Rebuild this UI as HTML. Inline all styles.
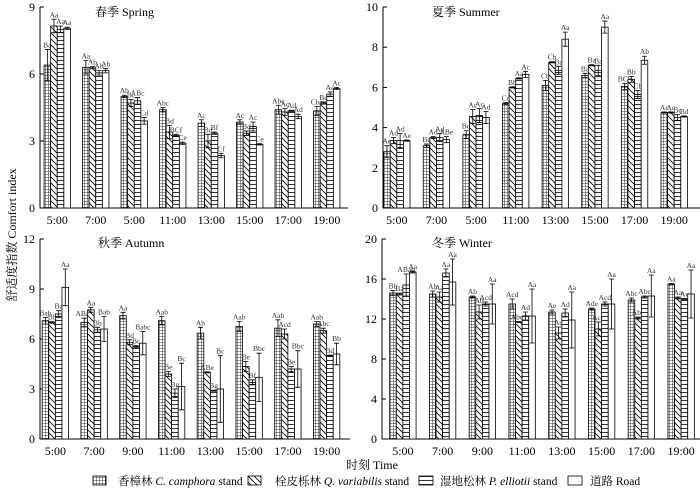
<!DOCTYPE html>
<html><head><meta charset="utf-8"><style>
body{margin:0;background:#fff}
svg, svg text, svg tspan{font-family:"Liberation Serif","Times New Roman","DejaVu Serif","Noto Serif CJK SC",serif !important}
</style></head><body>
<svg id="c" width="700" height="488" viewBox="0 0 700 488">
<defs>
<pattern id="pGrid" width="3" height="3" patternUnits="userSpaceOnUse"><rect width="3" height="3" fill="#fff"/><path d="M0 0H3M0 0V3" stroke="#000" stroke-width="0.8"/></pattern>
<pattern id="pDiag" width="6" height="6" patternUnits="userSpaceOnUse"><rect width="6" height="6" fill="#fff"/><path d="M-1 -1L7 7M-1 5L1 7M5 -1L7 1" stroke="#000" stroke-width="0.8"/></pattern>
<pattern id="pHor" width="4" height="4" patternUnits="userSpaceOnUse"><rect width="4" height="4" fill="#fff"/><path d="M0 0.5H4" stroke="#000" stroke-width="0.8"/></pattern>
</defs>
<g id="plots"></g>
<text x="16" y="235" transform="rotate(-90 16 235)" text-anchor="middle" font-size="12">舒适度指数 Comfort index</text>
<text x="372" y="469" text-anchor="middle" font-size="12">时刻  Time</text>
<g id="legend" font-size="11.5">
<rect x="93" y="476" width="13" height="9" fill="url(#pGrid)" stroke="#000" stroke-width="0.8"/>
<text x="118" y="485">香樟林 <tspan font-style="italic">C. camphora</tspan> stand</text>
<rect x="248" y="476" width="13" height="9" fill="url(#pDiag)" stroke="#000" stroke-width="0.8"/>
<text x="275" y="485">栓皮栎林 <tspan font-style="italic">Q. variabilis</tspan> stand</text>
<rect x="419" y="476" width="14" height="9" fill="url(#pHor)" stroke="#000" stroke-width="0.8"/>
<text x="440" y="485">湿地松林 <tspan font-style="italic">P. elliotii</tspan> stand</text>
<rect x="568" y="476" width="14" height="9" fill="#fff" stroke="#000" stroke-width="0.8"/>
<text x="590" y="485">道路 Road</text>
</g>
</svg>
<script>
const categories=["5:00","7:00","5:00","11:00","13:00","15:00","17:00","19:00"];
const categories2=["5:00","7:00","9:00","11:00","13:00","15:00","17:00","19:00"];
// Spring
const springC=[6.4,6.3,5.0,4.4,3.8,3.85,4.4,4.35];
const springQ=[8.15,6.28,4.7,3.4,3.0,3.35,4.3,4.7];
const springP=[8.0,6.05,4.8,3.25,3.35,3.65,4.35,5.1];
const springR=[8.05,6.15,3.9,2.9,2.35,2.85,4.1,5.35];
const springErr=[[0.7,0.3,0.05,0.1,0.15,0.1,0.2,0.2],[0.3,0.05,0.15,0.3,0.3,0.1,0.15,0.05],[0.15,0.1,0.15,0.05,0.05,0.2,0.03,0.1],[0.05,0.1,0.15,0.05,0.1,0.03,0.1,0.05]];
const springLab=[["Ba","Aa","Ab","Abc","Ac","Ac","Abc","Cbc"],["Aa","Ab","Bc","Bd","Bd","Bd","Ac","Bc"],["Aa","Ab","ABc","BCf","Bf","Ac","Ad","Ac"],["Aa","Ab","Cd","Ce","Cf","Ce","Ad","Ac"]];
// Summer
const summerC=[2.8,3.1,3.65,5.2,6.1,6.6,6.05,4.75];
const summerQ=[3.35,3.5,4.55,6.0,7.25,7.1,6.4,4.75];
const summerP=[3.35,3.5,4.6,6.45,6.85,6.85,5.65,4.5];
const summerR=[3.35,3.4,4.5,6.65,8.4,9.0,7.35,4.55];
const summerErr=[[0.3,0.08,0.2,0.05,0.25,0.1,0.15,0.03],[0.15,0.05,0.35,0.03,0.03,0.03,0.15,0.03],[0.35,0.2,0.35,0.03,0.2,0.25,0.2,0.15],[0.03,0.15,0.3,0.15,0.35,0.3,0.2,0.03]];
const summerLab=[["Ae","Be","Bd","Cc","Cb","Ba","BCb","Ac"],["Ad","Ad","Ac","Bb","Cb","Ba","Bb","Ac"],["Ad","Ad","Ac","Aa","Ba","Ba","Cb","Bc"],["Ae","ABe","Ad","Ac","Aa","Aa","Ab","Bd"]];
// Autumn
const autumnC=[7.1,7.0,7.4,7.1,6.35,6.75,6.65,6.9];
const autumnQ=[7.0,7.75,5.8,3.9,4.0,4.35,6.3,6.5];
const autumnP=[7.5,6.55,5.55,2.75,2.9,3.4,4.2,5.0];
const autumnR=[9.1,6.6,5.75,3.15,3.0,3.7,4.2,5.1];
const autumnErr=[[0.2,0.25,0.2,0.25,0.35,0.3,0.5,0.15],[0.05,0.15,0.15,0.15,0.03,0.3,0.3,0.15],[0.2,0.15,0.05,0.25,0.03,0.15,0.15,0.03],[1.1,0.75,0.7,1.4,2.0,1.45,1.1,0.65]];
const autumnLab=[["Bab","ABab","Aa","Aab","Ab","Aab","Aab","Aab"],["Bb","Aa","Bd","Be","ABe","Be","Acd","Abc"],["Ba","Bb","Bc","Bg","Bg","Bf","Be","Bd"],["Aa","Bab","Babc","Bc","Bc","Bbc","Bbc","Bb"]];
// Winter
const winterC=[14.6,14.5,14.2,13.5,12.7,13.0,13.9,15.5];
const winterQ=[14.5,14.2,12.7,11.7,10.6,11.0,12.1,14.1];
const winterP=[15.4,16.6,13.5,12.3,12.6,13.5,14.2,14.0];
const winterR=[16.7,15.7,13.5,12.3,11.9,13.5,14.3,14.5];
const winterErr=[[0.25,0.3,0.1,0.5,0.2,0.1,0.2,0.05],[0.1,0.5,0.7,0.05,0.6,0.7,0.1,0.1],[1.1,0.4,0.2,0.4,0.4,0.2,0.1,0.05],[0.1,2.3,2.0,2.7,2.8,2.5,2.1,2.4]];
const winterLab=[["Bb","Ab","Ab","Acd","Ae","Ade","Abc","Aa"],["Ba","Aa","Ab","Abcd","Ad","Acd","Abc","Aa"],["ABab","Aa","Acd","Ad","Ad","Acd","Abc","Ac"],["Aa","Aa","Aa","Aa","Aa","Aa","Aa","Aa"]];
const springTicks=[0,3,6,9],summerTicks=[0,2,4,6,8,10],autumnTicks=[0,3,6,9,12],winterTicks=[0,4,8,12,16,20];

const NS="http://www.w3.org/2000/svg";
const fills=["url(#pGrid)","url(#pDiag)","url(#pHor)","#fff"];
function mk(tag,attrs,parent){const e=document.createElementNS(NS,tag);for(const k in attrs)e.setAttribute(k,attrs[k]);parent.appendChild(e);return e;}
const plots=document.getElementById('plots');
function panel(name,title,cfg,cats,series,errs,labs,ticks){
  const g=mk('g',{},plots);
  
  
  const ymax=ticks[ticks.length-1];
  const y=v=>cfg.y0-(v/ymax)*(cfg.y0-cfg.y1);
  const band=(cfg.x1-cfg.x0)/cats.length;
  const bw=6.6;
  const xc=i=>cfg.x0+band*(i+0.5)+cfg.off;
  const ax=mk('path',{d:`M${cfg.x0} ${cfg.y1}V${cfg.y0}H${cfg.x1}`,stroke:'#000',fill:'none','stroke-width':1},g);
  
  
  ticks.forEach(t=>{
    mk('line',{x1:cfg.x0,x2:cfg.x0+4,y1:y(t),y2:y(t),stroke:'#000'},g);
    const tx=mk('text',{x:cfg.x0-5,y:y(t)+4,'text-anchor':'end','font-size':12},g);
    tx.textContent=t;
    
    
  });
  cats.forEach((c,i)=>{
    const tx=mk('text',{x:xc(i),y:cfg.y0+16,'text-anchor':'middle','font-size':12},g);
    tx.textContent=c;
    
    
    series.forEach((s,k)=>{
      const bx=xc(i)-2*bw+k*bw;
      const r=mk('rect',{x:bx,y:y(s[i]),width:bw,height:cfg.y0-y(s[i]),fill:fills[k],stroke:'#000','stroke-width':0.8},g);
      
      
      const e=errs[k][i],cx=bx+bw/2;
      const eb=mk('path',{d:`M${cx} ${y(s[i]+e)}V${y(s[i]-e)}M${cx-2.5} ${y(s[i]+e)}H${cx+2.5}M${cx-2.5} ${y(s[i]-e)}H${cx+2.5}`,stroke:'#000','stroke-width':0.8,fill:'none'},g);
      
      
      const lt=mk('text',{x:cx,y:y(s[i]+e)-2,'text-anchor':'middle','font-size':7.5,fill:'#333'},g);
      lt.textContent=labs[k][i];
      
      
    });
  });
  const tt=mk('text',{x:cfg.tx,y:cfg.ty,'font-size':12},g);
  tt.textContent=title;
  
  
}
panel('spring','春季  Spring',{x0:40,x1:348,y0:208,y1:7,off:-2,tx:95,ty:16},categories,[springC,springQ,springP,springR],springErr,springLab,springTicks);
panel('summer','夏季  Summer',{x0:383,x1:700,y0:208,y1:7,off:-6,tx:432,ty:16},categories,[summerC,summerQ,summerP,summerR],summerErr,summerLab,summerTicks);
panel('autumn','秋季 Autumn',{x0:40,x1:350,y0:439,y1:239,off:-4,tx:98,ty:247},categories2,[autumnC,autumnQ,autumnP,autumnR],autumnErr,autumnLab,autumnTicks);
panel('winter','冬季  Winter',{x0:382,x1:700,y0:439,y1:239,off:1,tx:432,ty:247},categories2,[winterC,winterQ,winterP,winterR],winterErr,winterLab,winterTicks);
</script>
</body></html>
